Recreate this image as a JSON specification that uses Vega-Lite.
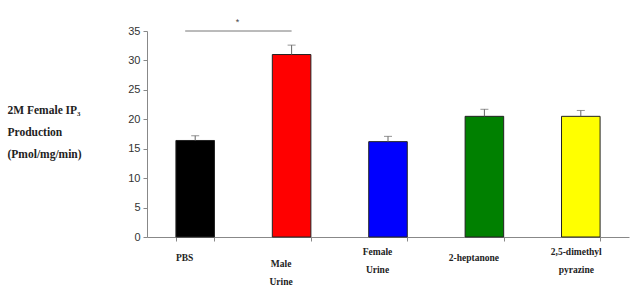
{
  "$schema": "https://vega.github.io/schema/vega-lite/v6.json",
  "autosize": "none",
  "width": 482,
  "height": 206,
  "padding": {"left": 147, "top": 31, "right": 15, "bottom": 48},
  "background": "white",
  "config": {
    "view": {"stroke": null},
    "axisY": {
      "tickCount": 7,
      "labelOverlap": false,
      "grid": false,
      "domainColor": "#888888",
      "tickColor": "#888888",
      "tickSize": 4,
      "labelFont": "Liberation Sans",
      "labelFontSize": 11,
      "labelColor": "#333333",
      "labelPadding": 3
    }
  },
  "datasets": {
    "bars": [
      {"group": "PBS", "value": 16.4, "upper": 17.2, "color": "#000000"},
      {"group": "Male Urine", "value": 31.0, "upper": 32.6, "color": "#ff0000"},
      {"group": "Female Urine", "value": 16.2, "upper": 17.1, "color": "#0000ff"},
      {"group": "2-heptanone", "value": 20.5, "upper": 21.7, "color": "#008000"},
      {"group": "2,5-dimethyl pyrazine", "value": 20.5, "upper": 21.5, "color": "#ffff00"}
    ],
    "sig": [
      {"from": "PBS", "to": "Male Urine", "y": 35, "label": "*"}
    ]
  },
  "layer": [
    {
      "data": {"name": "bars"},
      "mark": {"type": "bar", "stroke": "#222222", "strokeWidth": 1},
      "encoding": {
        "x": {
          "field": "group", "type": "nominal", "sort": null,
          "scale": {"paddingInner": 0.6, "paddingOuter": 0.3},
          "axis": {
            "title": null,
            "labelAngle": 0,
            "tickBand": "extent",
            "domainColor": "#888888",
            "tickColor": "#888888",
            "tickSize": 4,
            "labelFont": "Liberation Serif",
            "labelFontWeight": "bold",
            "labelFontSize": 9.5,
            "labelColor": "#222222",
            "labelBaseline": "middle",
            "labelAlign": "center",
            "labelOffset": {"condition": {"test": "datum.value == '2,5-dimethyl pyrazine'", "value": -5}, "value": -11},
            "labelPadding": {"condition": [{"test": "datum.value == 'Male Urine'", "value": 22}, {"test": "datum.value == 'PBS' || datum.value == '2-heptanone'", "value": 16}], "value": 10},
            "labelLineHeight": 18,
            "labelOverlap": false,
            "labelExpr": "!isValid(datum.value) ? '' : datum.value == 'PBS' || datum.value == '2-heptanone' ? datum.value : datum.value == '2,5-dimethyl pyrazine' ? ['2,5-dimethyl', 'pyrazine'] : split(datum.value, ' ')"
          }
        },
        "y": {
          "field": "value", "type": "quantitative",
          "scale": {"domain": [0, 35], "nice": false},
          "axis": {
            "title": ["2M Female IP₃", "Production", "(Pmol/mg/min)"],
            "titleAngle": 0,
            "titleAlign": "left",
            "titleBaseline": "middle",
            "titleFont": "Liberation Serif",
            "titleFontWeight": "bold",
            "titleFontSize": 11.5,
            "titleColor": "#222222",
            "titleLineHeight": 22,
            "titleX": -140,
            "titleY": 79
          }
        },
        "color": {"field": "color", "type": "nominal", "scale": null, "legend": null}
      }
    },
    {
      "data": {"name": "bars"},
      "mark": {"type": "rule", "color": "#666666", "strokeWidth": 1},
      "encoding": {
        "x": {"field": "group", "type": "nominal", "sort": null},
        "y": {"field": "value", "type": "quantitative"},
        "y2": {"field": "upper"}
      }
    },
    {
      "data": {"name": "bars"},
      "mark": {"type": "tick", "color": "#666666", "size": 8, "thickness": 1, "orient": "horizontal"},
      "encoding": {
        "x": {"field": "group", "type": "nominal", "sort": null},
        "y": {"field": "upper", "type": "quantitative"}
      }
    },
    {
      "data": {"name": "sig"},
      "mark": {"type": "rule", "color": "#777777", "strokeWidth": 1},
      "encoding": {
        "x": {"field": "from", "type": "nominal", "bandPosition": 0.24, "sort": null},
        "x2": {"field": "to", "bandPosition": 0.5},
        "y": {"field": "y", "type": "quantitative"}
      }
    },
    {
      "data": {"name": "sig"},
      "mark": {"type": "text", "color": "#444444", "fontSize": 9, "font": "Liberation Sans", "dy": -9, "baseline": "middle"},
      "encoding": {
        "x": {"field": "from", "type": "nominal", "bandPosition": 1.6, "sort": null},
        "y": {"field": "y", "type": "quantitative"},
        "text": {"field": "label"}
      }
    }
  ]
}
